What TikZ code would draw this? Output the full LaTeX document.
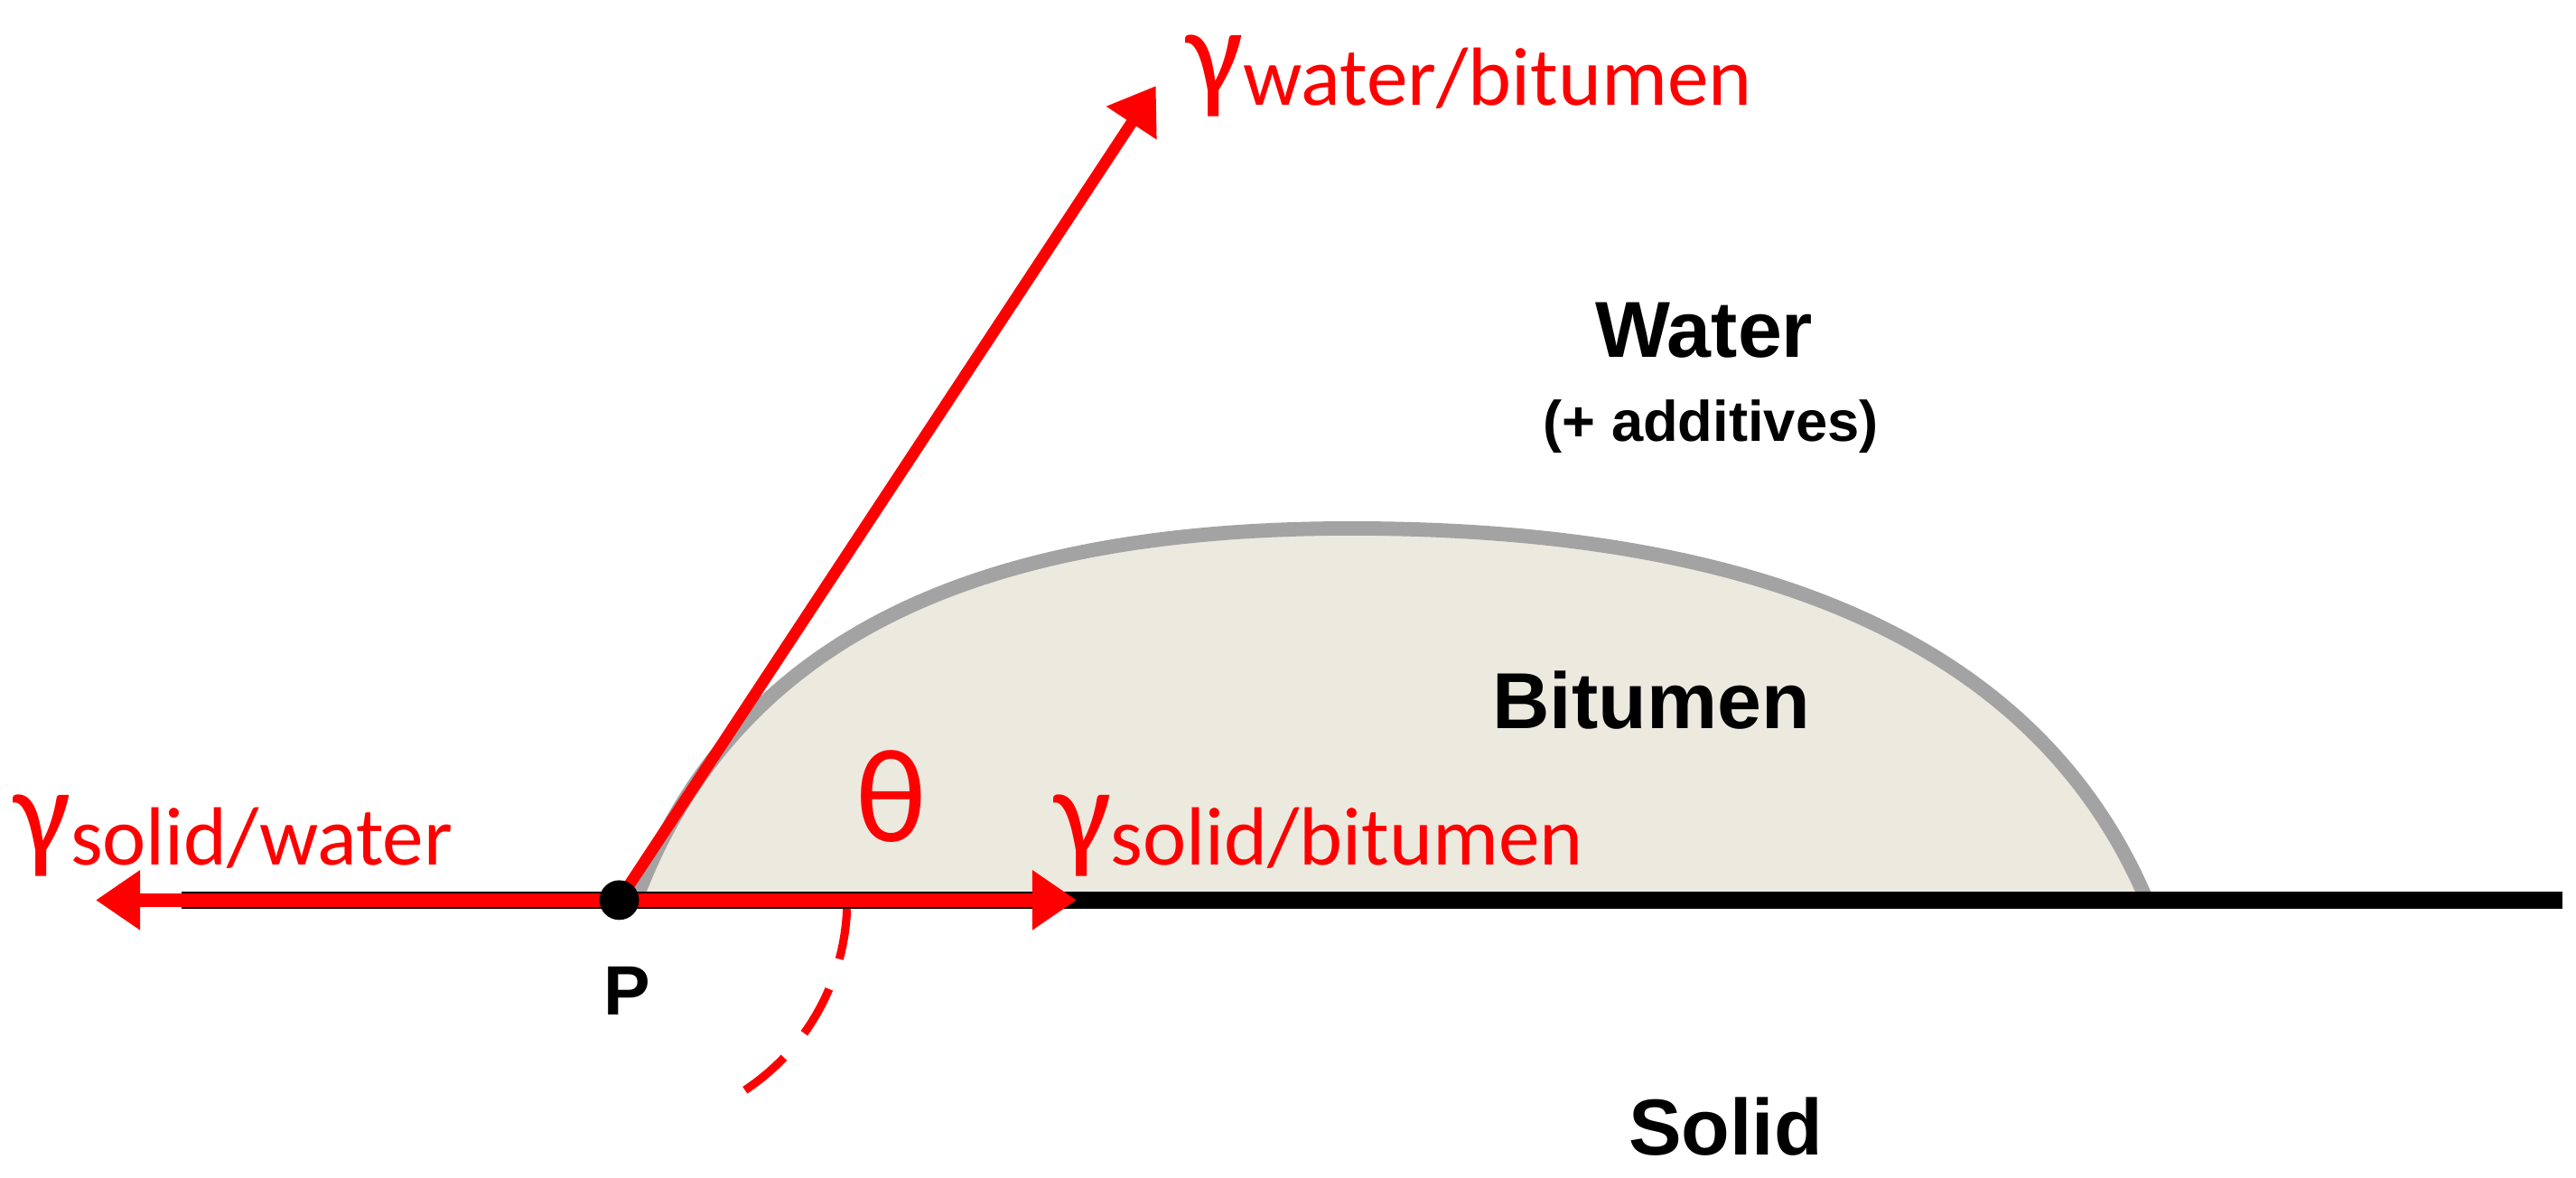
\documentclass[tikz,border=0pt]{standalone}
\usepackage{fontspec}
\setmainfont{Liberation Sans}
\newfontfamily\redfont{Carlito}
\usetikzlibrary{arrows.meta}
\definecolor{bitfill}{HTML}{ECE9DF}
\definecolor{dropedge}{HTML}{A3A3A3}
\tikzset{
  vec/.style={draw=red, line width=4.2pt, -{Triangle[length=14pt,width=18pt]}},
  lbl/.style={font=\fontsize{25}{28}\selectfont\bfseries},
  rlbl/.style={text=red, font=\redfont\fontsize{26}{30}\selectfont, inner sep=0pt},
}
\newcommand{\gam}{{\fontsize{40}{40}\selectfont γ}}
\begin{document}
\begin{tikzpicture}[x=0.01828cm,y=-0.01828cm]
\useasboundingbox (0,0) rectangle (1560,713);
% drop
\fill[bitfill] (385,545) .. controls (450,370) and (620,318) .. (830,320) .. controls (1050,322) and (1230,380) .. (1300,545) -- cycle;
\draw[dropedge, line width=4.5pt] (385,545) .. controls (450,370) and (620,318) .. (830,320) .. controls (1050,322) and (1230,380) .. (1300,545);
% solid line
\coordinate (sl) at (110,545);
\coordinate (sr) at (1552,545);
\draw[black, line width=5.5pt] (sl) -- (sr);
\coordinate (P) at (375,545);
\coordinate (L) at (58,545);
\coordinate (R) at (652,545);
\coordinate (U) at (700,52);
\draw[vec] (P) -- (L);
\draw[vec] (P) -- (R);
\draw[vec, line width=3.6pt] (P) -- (U);
\fill[black] (P) circle (12);
% theta arc
\draw[red, line width=2.6pt, dash pattern=on 16pt off 10pt] (P) ++(56.5:138) arc[start angle=56.5, end angle=0, radius=138];
\node[text=red, font=\redfont\fontsize{42}{42}\selectfont] (th) at (540,482) {θ};
% labels
\node[rlbl, anchor=base west] (gwb) at (718,58) {\gam\raisebox{-3pt}{water/bitumen}};
\node[rlbl, anchor=base west] (gsw) at (8,518) {\gam\raisebox{-3pt}{solid/water}};
\node[rlbl, anchor=base west] (gsb) at (638,518) {\gam\raisebox{-3pt}{solid/bitumen}};
\node[lbl] (water) at (1032,200) {Water};
\node[font=\fontsize{18}{20}\selectfont\bfseries] (add) at (1036,258) {(+ additives)};
\node[lbl] (bit) at (1000,424) {Bitumen};
\node[lbl] (solid) at (1045,682) {Solid};
\node[font=\fontsize{22}{24}\selectfont\bfseries] (pl) at (380,600) {P};
\end{tikzpicture}
\end{document}
